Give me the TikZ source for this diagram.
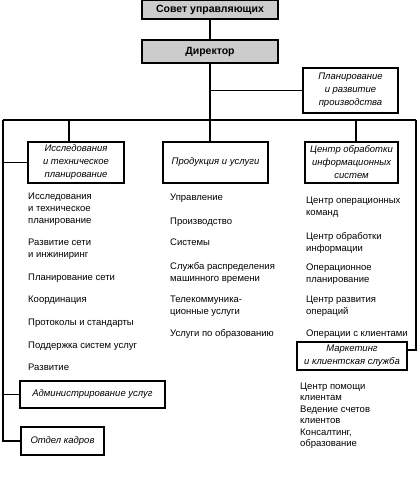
\documentclass[tikz,border=0pt]{standalone}
\usepackage{fontspec}
\setmainfont{Liberation Sans}
\usepackage{tikz}
\usetikzlibrary{positioning}
\tikzset{%
  every unit/.style={
    draw,
    line width=1.1pt,
    align=center,
    inner sep=1pt,
    font=\fontsize{9.5}{13}\selectfont\itshape
  },
  unit head/.style={
    fill=gray!40,
    font=\fontsize{10.5}{13}\selectfont\bfseries
  },
  list item/.style={
    anchor=north west,
    align=left,
    inner sep=0pt,
    font=\fontsize{9.5}{12}\selectfont
  },
  link/.style={line width=1.1pt},
}

\begin{document}
\begin{tikzpicture}[x=1pt, y=-1pt]
    \useasboundingbox (0,0) rectangle (419,500);

    % top of the chart
    \node [every unit, unit head, minimum width=136, minimum height=19] (board) at (210,9.5) {Совет управляющих};
    \node [every unit, unit head, minimum width=136, minimum height=23] (director) at (210,51.5) {Директор};
    \node [every unit, minimum width=95, minimum height=45] (planning) at (350.5,90.5) {Планирование\\и развитие\\производства};

    % second level
    \node [every unit, minimum width=96, minimum height=41] (research) at (76,162.5) {Исследования\\и техническое\\планирование};
    \node [every unit, minimum width=105, minimum height=41] (products) at (215.5,162.5) {Продукция и услуги};
    \node [every unit, minimum width=93, minimum height=41] (infocenter) at (351.5,162.5) {Центр обработки\\информационных\\систем};
    \node [every unit, minimum width=145, minimum height=27] (admin) at (92.5,394.5) {Администрирование услуг};
    \node [every unit, minimum width=83, minimum height=28] (staff) at (62.5,441) {Отдел кадров};
    \node [every unit, minimum width=110, minimum height=28] (marketing) at (352,356) {Маркетинг\\и клиентская служба};

    % bus
    \coordinate (bus-left) at (3,120);
    \coordinate (bus-right) at (416,120);
    \coordinate (bus-research) at (69,120);
    \coordinate (bus-info) at (356,120);

    \draw [link] (board) -- (director);
    \draw [link] (director.south) -- (director.south |- products.north);
    \draw [link] (director.south |- planning.west) -- (planning.west);
    \draw [link] (bus-left) -- (bus-right);
    \draw [link] (bus-left) |- (staff.west);
    \draw [link] (bus-left |- research.west) -- (research.west);
    \draw [link] (bus-left |- admin.west) -- (admin.west);
    \draw [link] (bus-research) -- (bus-research |- research.north);
    \draw [link] (bus-info) -- (bus-info |- infocenter.north);
    \draw [link] (bus-right) |- ([yshift=6]marketing.east);

    % lists under the units
    \foreach \y/\t [count=\i] in {197/{Исследования\\и техническое\\планирование},
        243/{Развитие сети\\и инжиниринг}, 278/{Планирование сети}, 300/{Координация},
        323/{Протоколы и стандарты}, 346/{Поддержка систем услуг}, 368/{Развитие}}
    \node [list item] (research-\i) at (28,\y-4.5) {\t};

    \foreach \y/\t [count=\i] in {198/{Управление}, 222/{Производство}, 243/{Системы},
        267/{Служба распределения\\машинного времени},
        300/{Телекоммуника-\\ционные услуги}, 334/{Услуги по образованию}}
    \node [list item] (products-\i) at (170,\y-4.5) {\t};

    \foreach \y/\t [count=\i] in {201/{Центр операционных\\команд},
        237/{Центр обработки\\информации}, 268/{Операционное\\планирование},
        300/{Центр развития\\операций}, 334/{Операции с клиентами}}
    \node [list item] (infocenter-\i) at (306,\y-4.5) {\t};

    \foreach \y/\t [count=\i] in {387/{Центр помощи\\клиентам},
        410/{Ведение счетов\\клиентов}, 433/{Консалтинг,\\образование}}
    \node [list item, font=\fontsize{9.5}{11.5}\selectfont] (marketing-\i) at (300,\y-4.5) {\t};

\end{tikzpicture}
\end{document}
